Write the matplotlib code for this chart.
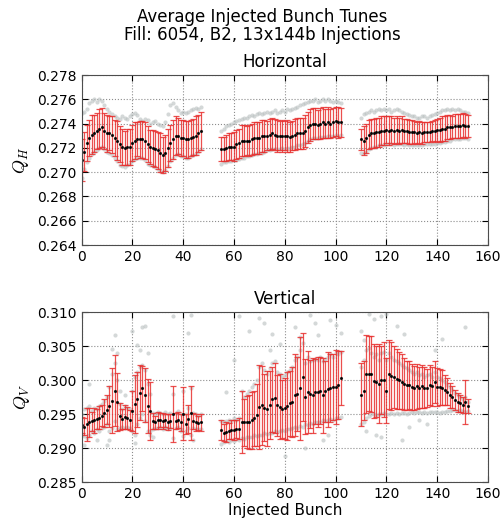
import numpy as np
import matplotlib.pyplot as plt

plt.rcParams['mathtext.fontset'] = 'cm'

# first bunch number of each of the three trains
train_start = [0, 55, 110]

# ---- horizontal tune, per bunch: mean, error, upper/lower cloud of single injections
qh_mean = [
    [0.2710,0.2717,0.2724,0.2728,0.2731,0.2732,0.2734,0.2736,0.2737,0.2734,
     0.2732,0.2732,0.2731,0.2728,0.2726,0.2723,0.2721,0.2720,0.2721,0.2721,
     0.2724,0.2726,0.2727,0.2727,0.2727,0.2726,0.2723,0.2721,0.2720,0.2719,
     0.2718,0.2716,0.2714,0.2716,0.2720,0.2724,0.2727,0.2730,0.2730,0.2728,
     0.2728,0.2727,0.2727,0.2728,0.2729,0.2730,0.2732,0.2734],
    [0.2719,0.2719,0.2720,0.2721,0.2721,0.2721,0.2723,0.2724,0.2726,0.2726,
     0.2726,0.2726,0.2727,0.2728,0.2728,0.2728,0.2730,0.2730,0.2730,0.2731,
     0.2732,0.2731,0.2730,0.2730,0.2730,0.2730,0.2730,0.2729,0.2730,0.2731,
     0.2732,0.2732,0.2732,0.2734,0.2737,0.2739,0.2740,0.2740,0.2739,0.2740,
     0.2741,0.2740,0.2741,0.2740,0.2741,0.2742,0.2741,0.2741],
    [0.2727,0.2726,0.2728,0.2731,0.2732,0.2732,0.2733,0.2733,0.2734,0.2734,
     0.2735,0.2734,0.2735,0.2734,0.2735,0.2734,0.2735,0.2734,0.2734,0.2733,
     0.2733,0.2733,0.2732,0.2733,0.2732,0.2733,0.2733,0.2733,0.2734,0.2734,
     0.2735,0.2735,0.2736,0.2736,0.2737,0.2737,0.2737,0.2738,0.2738,0.2738,
     0.2739,0.2738,0.2738],
]
qh_err = [
    [0.0017,0.0016,0.0015,0.0015,0.0016,0.0015,0.0015,0.0016,0.0016,0.0015,
     0.0015,0.0014,0.0015,0.0015,0.0016,0.0015,0.0015,0.0014,0.0015,0.0015,
     0.0015,0.0015,0.0014,0.0015,0.0015,0.0015,0.0015,0.0014,0.0015,0.0015,
     0.0015,0.0016,0.0015,0.0015,0.0016,0.0015,0.0016,0.0016,0.0015,0.0015,
     0.0015,0.0015,0.0015,0.0015,0.0015,0.0016,0.0015,0.0016],
    [0.0010,0.0010,0.0011,0.0011,0.0011,0.0012,0.0012,0.0012,0.0013,0.0013,
     0.0012,0.0013,0.0013,0.0013,0.0013,0.0013,0.0013,0.0013,0.0012,0.0013,
     0.0013,0.0013,0.0013,0.0012,0.0013,0.0012,0.0013,0.0012,0.0012,0.0013,
     0.0013,0.0013,0.0013,0.0013,0.0013,0.0013,0.0013,0.0013,0.0012,0.0013,
     0.0013,0.0012,0.0013,0.0012,0.0012,0.0012,0.0013,0.0012],
    [0.0009,0.0012,0.0012,0.0012,0.0012,0.0012,0.0012,0.0012,0.0012,0.0012,
     0.0011,0.0012,0.0011,0.0011,0.0011,0.0011,0.0011,0.0010,0.0010,0.0010,
     0.0010,0.0009,0.0009,0.0009,0.0009,0.0008,0.0008,0.0008,0.0008,0.0009,
     0.0009,0.0010,0.0010,0.0010,0.0010,0.0010,0.0009,0.0010,0.0010,0.0010,
     0.0010,0.0010,0.0009],
]
qh_hi = [
    [0.2749,0.2750,0.2752,0.2757,0.2759,0.2760,0.2758,0.2760,0.2759,0.2755,
     0.2752,0.2750,0.2748,0.2746,0.2745,0.2744,0.2746,0.2745,0.2744,0.2746,
     0.2748,0.2749,0.2747,0.2744,0.2742,0.2744,0.2743,0.2740,0.2741,0.2742,
     0.2740,0.2739,0.2738,0.2741,0.2748,0.2755,0.2757,0.2754,0.2751,0.2749,
     0.2750,0.2749,0.2750,0.2751,0.2752,0.2753,0.2752,0.2754],
    [0.2734,0.2736,0.2738,0.2739,0.2740,0.2741,0.2742,0.2743,0.2744,0.2745,
     0.2745,0.2746,0.2747,0.2746,0.2748,0.2749,0.2748,0.2749,0.2750,0.2749,
     0.2750,0.2751,0.2749,0.2750,0.2751,0.2750,0.2752,0.2751,0.2752,0.2753,
     0.2754,0.2755,0.2756,0.2757,0.2758,0.2759,0.2759,0.2760,0.2758,0.2759,
     0.2760,0.2759,0.2760,0.2759,0.2758,0.2759,0.2758,0.2757],
    [0.2745,0.2748,0.2749,0.2750,0.2751,0.2750,0.2751,0.2752,0.2751,0.2752,
     0.2751,0.2752,0.2750,0.2751,0.2752,0.2751,0.2750,0.2749,0.2748,0.2747,
     0.2746,0.2746,0.2745,0.2745,0.2746,0.2746,0.2745,0.2746,0.2747,0.2748,
     0.2749,0.2750,0.2751,0.2751,0.2752,0.2751,0.2752,0.2751,0.2752,0.2751,
     0.2750,0.2750,0.2749],
]
qh_lo = [
    [0.2695,0.2703,0.2708,0.2712,0.2715,0.2717,0.2718,0.2720,0.2721,0.2719,
     0.2717,0.2716,0.2714,0.2712,0.2709,0.2706,0.2705,0.2704,0.2706,0.2707,
     0.2709,0.2711,0.2712,0.2712,0.2712,0.2710,0.2707,0.2706,0.2705,0.2704,
     0.2703,0.2701,0.2700,0.2702,0.2705,0.2709,0.2712,0.2714,0.2715,0.2713,
     0.2713,0.2712,0.2712,0.2713,0.2714,0.2715,0.2717,0.2719],
    [0.2707,0.2708,0.2708,0.2709,0.2709,0.2710,0.2710,0.2711,0.2712,0.2712,
     0.2713,0.2713,0.2714,0.2715,0.2715,0.2716,0.2716,0.2717,0.2718,0.2718,
     0.2719,0.2719,0.2719,0.2719,0.2720,0.2719,0.2720,0.2720,0.2721,0.2721,
     0.2722,0.2722,0.2723,0.2724,0.2726,0.2727,0.2728,0.2728,0.2728,0.2729,
     0.2729,0.2729,0.2730,0.2730,0.2730,0.2731,0.2730,0.2731],
    [0.2716,0.2716,0.2717,0.2719,0.2720,0.2721,0.2721,0.2722,0.2722,0.2722,
     0.2723,0.2723,0.2723,0.2722,0.2723,0.2723,0.2723,0.2722,0.2723,0.2722,
     0.2722,0.2722,0.2722,0.2722,0.2722,0.2723,0.2723,0.2723,0.2723,0.2723,
     0.2724,0.2724,0.2725,0.2725,0.2726,0.2726,0.2727,0.2727,0.2727,0.2727,
     0.2728,0.2728,0.2727],
]

# ---- vertical tune
qv_mean = [
    [0.2934,0.2932,0.2935,0.2938,0.2940,0.2941,0.2943,0.2945,0.2948,0.2952,
     0.2957,0.2962,0.2970,0.2985,0.2968,0.2947,0.2943,0.2946,0.2945,0.2942,
     0.2955,0.2965,0.2972,0.2982,0.2988,0.2978,0.2962,0.2955,0.2940,0.2938,
     0.2941,0.2942,0.2940,0.2941,0.2939,0.2940,0.2950,0.2940,0.2942,0.2938,
     0.2951,0.2936,0.2943,0.2952,0.2940,0.2938,0.2937,0.2938],
    [0.2927,0.2923,0.2924,0.2925,0.2927,0.2927,0.2928,0.2929,0.2939,0.2938,
     0.2939,0.2939,0.2941,0.2944,0.2949,0.2961,0.2963,0.2960,0.2958,0.2963,
     0.2972,0.2974,0.2963,0.2961,0.2958,0.2959,0.2962,0.2966,0.2968,0.2978,
     0.2980,0.2988,0.3005,0.2976,0.2983,0.2980,0.2978,0.2983,0.2983,0.2985,
     0.2978,0.2984,0.2987,0.2989,0.2990,0.2990,0.2993,0.3003],
    [0.2979,0.2985,0.3009,0.3010,0.3009,0.2999,0.2998,0.2995,0.3000,0.3001,
     0.2985,0.3009,0.3007,0.3005,0.3002,0.3000,0.2998,0.2995,0.2993,0.2993,
     0.2990,0.2989,0.2991,0.2989,0.2991,0.2989,0.2989,0.2993,0.2991,0.2998,
     0.2990,0.2990,0.2989,0.2986,0.2983,0.2978,0.2975,0.2971,0.2968,0.2966,
     0.2964,0.2968,0.2962],
]
qv_err = [
    [0.0012,0.0013,0.0024,0.0022,0.0014,0.0018,0.0015,0.0017,0.0015,0.0020,
     0.0022,0.0030,0.0048,0.0052,0.0043,0.0020,0.0015,0.0018,0.0016,0.0015,
     0.0030,0.0043,0.0040,0.0040,0.0033,0.0040,0.0040,0.0043,0.0012,0.0010,
     0.0012,0.0010,0.0012,0.0010,0.0012,0.0010,0.0041,0.0012,0.0012,0.0012,
     0.0039,0.0015,0.0020,0.0040,0.0012,0.0012,0.0010,0.0012],
    [0.0015,0.0012,0.0015,0.0012,0.0014,0.0015,0.0013,0.0015,0.0046,0.0035,
     0.0038,0.0040,0.0042,0.0040,0.0045,0.0062,0.0058,0.0050,0.0055,0.0050,
     0.0048,0.0052,0.0045,0.0048,0.0043,0.0045,0.0050,0.0048,0.0052,0.0060,
     0.0055,0.0076,0.0065,0.0055,0.0060,0.0050,0.0055,0.0048,0.0052,0.0050,
     0.0055,0.0045,0.0055,0.0050,0.0048,0.0055,0.0050,0.0040],
    [0.0046,0.0044,0.0057,0.0055,0.0056,0.0055,0.0052,0.0058,0.0050,0.0055,
     0.0048,0.0051,0.0050,0.0046,0.0044,0.0042,0.0040,0.0038,0.0036,0.0035,
     0.0034,0.0032,0.0033,0.0030,0.0031,0.0030,0.0028,0.0030,0.0029,0.0031,
     0.0028,0.0027,0.0026,0.0022,0.0020,0.0018,0.0016,0.0015,0.0014,0.0013,
     0.0012,0.0032,0.0010],
]
qv_hi = [
    [0.2950,0.2958,0.2960,0.2962,0.2955,0.2960,0.2958,0.2962,0.2965,0.2970,
     0.2975,0.2990,0.3010,0.3025,0.3000,0.2965,0.2958,0.2962,0.2960,0.2958,
     0.2985,0.3005,0.3012,0.3020,0.3022,0.3015,0.2995,0.2980,0.2952,0.2950,
     0.2953,0.2952,0.2951,0.2953,0.2950,0.2952,0.2980,0.2952,0.2955,0.2950,
     0.2985,0.2950,0.2960,0.2988,0.2952,0.2950,0.2948,0.2950],
    [0.2940,0.2938,0.2940,0.2942,0.2940,0.2945,0.2942,0.2945,0.2985,0.2975,
     0.2980,0.2985,0.2990,0.2995,0.3000,0.3020,0.3025,0.3015,0.3010,0.3018,
     0.3025,0.3028,0.3012,0.3010,0.3005,0.3008,0.3012,0.3015,0.3020,0.3030,
     0.3035,0.3045,0.3055,0.3025,0.3035,0.3028,0.3030,0.3032,0.3030,0.3035,
     0.3028,0.3032,0.3035,0.3038,0.3035,0.3040,0.3038,0.3042],
    [0.3020,0.3030,0.3045,0.3048,0.3040,0.3035,0.3038,0.3030,0.3040,0.3042,
     0.3030,0.3040,0.3035,0.3030,0.3028,0.3025,0.3022,0.3020,0.3018,0.3015,
     0.3012,0.3010,0.3012,0.3008,0.3010,0.3005,0.3008,0.3010,0.3005,0.3012,
     0.3005,0.3003,0.3000,0.2998,0.2993,0.2990,0.2986,0.2982,0.2978,0.2975,
     0.2972,0.2975,0.2968],
]
qv_lo = [
    [0.2920,0.2918,0.2915,0.2920,0.2925,0.2922,0.2928,0.2925,0.2930,0.2932,
     0.2935,0.2925,0.2930,0.2940,0.2928,0.2930,0.2932,0.2930,0.2932,0.2930,
     0.2925,0.2920,0.2935,0.2945,0.2950,0.2940,0.2925,0.2920,0.2928,0.2930,
     0.2930,0.2932,0.2929,0.2931,0.2928,0.2930,0.2915,0.2930,0.2932,0.2928,
     0.2918,0.2926,0.2930,0.2920,0.2930,0.2928,0.2928,0.2929],
    [0.2907,0.2909,0.2910,0.2909,0.2912,0.2911,0.2913,0.2912,0.2915,0.2914,
     0.2916,0.2917,0.2916,0.2919,0.2918,0.2920,0.2919,0.2922,0.2921,0.2923,
     0.2922,0.2925,0.2924,0.2926,0.2927,0.2926,0.2929,0.2928,0.2930,0.2931,
     0.2930,0.2933,0.2932,0.2935,0.2934,0.2937,0.2936,0.2938,0.2939,0.2938,
     0.2941,0.2940,0.2942,0.2943,0.2942,0.2945,0.2944,0.2946],
    [0.2935,0.2938,0.2945,0.2948,0.2950,0.2950,0.2949,0.2951,0.2950,0.2952,
     0.2950,0.2951,0.2952,0.2951,0.2952,0.2951,0.2952,0.2952,0.2951,0.2952,
     0.2953,0.2952,0.2953,0.2953,0.2952,0.2953,0.2952,0.2953,0.2954,0.2953,
     0.2953,0.2952,0.2953,0.2954,0.2955,0.2955,0.2956,0.2956,0.2955,0.2956,
     0.2955,0.2954,0.2955],
]
# scattered single injections far from the mean (vertical plane)
qv_out_x = [1, 3, 6, 10, 11, 12, 13, 14, 15, 17, 20, 21, 22, 23, 24, 25, 26, 27, 28, 33,
            36, 39, 42, 43, 44, 57, 60, 62, 66, 70, 72, 75, 74, 78, 84, 86, 90, 92, 93, 98,
            100, 80, 88, 95, 97, 102, 110, 111, 113, 115, 118, 120, 124, 127, 139, 142, 151, 112, 116, 118,
            126, 129, 133, 136]
qv_out_y = [0.2905, 0.2994, 0.2912, 0.2905, 0.2912, 0.3046, 0.3066, 0.3040, 0.2985, 0.2978,
            0.3073, 0.2908, 0.3052, 0.3045, 0.3078, 0.3080, 0.3040, 0.2925, 0.2917, 0.2930,
            0.3094, 0.2925, 0.3070, 0.3096, 0.2912, 0.2983, 0.3030, 0.3094, 0.3073, 0.3091,
            0.3085, 0.3068, 0.3044, 0.3053, 0.3078, 0.3063, 0.3096, 0.3084, 0.3067, 0.3089,
            0.3081, 0.2888, 0.2900, 0.2912, 0.2920, 0.3070, 0.3073, 0.3060, 0.3097, 0.3090,
            0.3095, 0.3097, 0.3080, 0.3068, 0.3044, 0.3061, 0.3078, 0.2925, 0.2920, 0.2917,
            0.2912, 0.2932, 0.2942, 0.2935]


def draw_plane(ax, mean, err, hi, lo, out_x=None, out_y=None):
    gray = dict(ls='none', marker='o', ms=3, color='#b8bfbf', mec='none', alpha=0.6)
    for start, m, e, h, l in zip(train_start, mean, err, hi, lo):
        x = start + np.arange(len(m))
        ax.plot(x, h, **gray)
        ax.plot(x, l, **gray)
    if out_x is not None:
        ax.plot(out_x, out_y, **gray)
    for start, m, e in zip(train_start, mean, err):
        x = start + np.arange(len(m))
        ax.errorbar(x, m, yerr=e, fmt='.', color='k', ms=2.5,
                    ecolor='#e8302f', elinewidth=0.9, capsize=2.5, capthick=0.9,
                    alpha=0.85)
    ax.set_xlim(0, 160)
    ax.grid(True, ls=':', color='0.55', lw=0.8)
    ax.tick_params(direction='in', top=True, right=True, labelsize=10, length=4)
    for s in ax.spines.values():
        s.set_color('0.3')


fig = plt.figure(figsize=(5.0, 5.18), dpi=100)
ax1 = fig.add_axes([0.163, 0.527, 0.813, 0.328])
ax2 = fig.add_axes([0.163, 0.069, 0.813, 0.328])

draw_plane(ax1, qh_mean, qh_err, qh_hi, qh_lo)
ax1.set_ylim(0.264, 0.278)
ax1.set_yticks(np.arange(0.264, 0.2781, 0.002))
ax1.yaxis.set_major_formatter(plt.FormatStrFormatter('%.3f'))
ax1.set_title('Horizontal', fontsize=12)
ax1.set_ylabel('$Q_H$', fontsize=13)

draw_plane(ax2, qv_mean, qv_err, qv_hi, qv_lo, qv_out_x, qv_out_y)
ax2.set_ylim(0.285, 0.310)
ax2.set_yticks(np.arange(0.285, 0.3101, 0.005))
ax2.yaxis.set_major_formatter(plt.FormatStrFormatter('%.3f'))
ax2.set_title('Vertical', fontsize=12)
ax2.set_ylabel('$Q_V$', fontsize=13)
ax2.set_xlabel('Injected Bunch', fontsize=11, labelpad=1)

fig.text(0.525, 0.985, 'Average Injected Bunch Tunes\nFill: 6054, B2, 13x144b Injections',
         ha='center', va='top', fontsize=12, multialignment='center', linespacing=1.0)

fig.savefig('out.png', dpi=100)
